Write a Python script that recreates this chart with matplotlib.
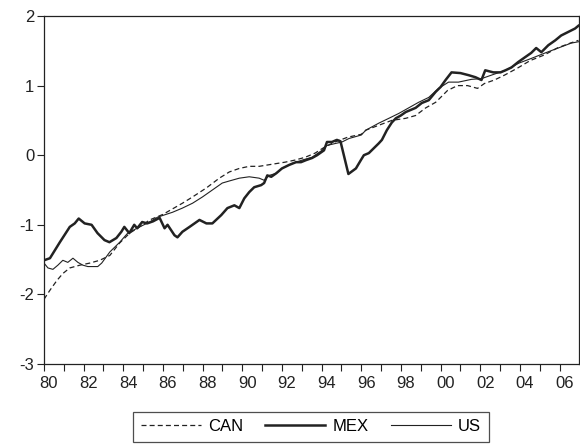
import matplotlib.pyplot as plt
import matplotlib.transforms as mtransforms

plt.rcParams['font.family'] = ['Liberation Sans', 'DejaVu Sans']

# series (decimal year, value)
can_t = [1980.0, 1980.3, 1980.65, 1980.95, 1981.3, 1981.81, 1982.31, 1982.81, 1983.32, 1983.82,
         1984.32, 1984.82, 1985.33, 1986.0, 1986.98, 1987.49, 1988.19, 1988.84, 1989.35, 1989.85,
         1990.35, 1990.85, 1991.5, 1992.16, 1992.66, 1993.17, 1993.67, 1994.17, 1994.67, 1995.33,
         1996.0, 1996.23, 1996.88, 1997.54, 1998.24, 1998.74, 1999.25, 1999.75, 2000.0, 2000.35,
         2000.85, 2001.36, 2001.86, 2002.21, 2002.71, 2003.22, 2003.87, 2004.52, 2005.23, 2005.88,
         2006.53, 2006.95]
can_v = [-2.07, -1.94, -1.8, -1.7, -1.62, -1.58, -1.55, -1.51, -1.44, -1.26,
         -1.12, -1.03, -0.93, -0.85, -0.69, -0.6, -0.47, -0.33, -0.24, -0.19,
         -0.16, -0.16, -0.13, -0.1, -0.07, -0.03, 0.03, 0.12, 0.19, 0.26,
         0.3, 0.36, 0.43, 0.5, 0.53, 0.57, 0.68, 0.76, 0.83, 0.93,
         1.0, 1.0, 0.96, 1.03, 1.08, 1.15, 1.25, 1.36, 1.44, 1.54,
         1.61, 1.65]

mex_t = [1980.0, 1980.3, 1980.8, 1981.3, 1981.55, 1981.75, 1982.05, 1982.4, 1982.7, 1983.05,
         1983.3, 1983.65, 1983.9, 1984.05, 1984.3, 1984.55, 1984.7, 1984.95, 1985.2, 1985.5,
         1985.83, 1986.08, 1986.23, 1986.58, 1986.73, 1986.98, 1987.34, 1987.84, 1988.19, 1988.49,
         1988.94, 1989.25, 1989.6, 1989.85, 1990.1, 1990.35, 1990.6, 1990.95, 1991.1, 1991.26,
         1991.46, 1991.71, 1992.0, 1992.36, 1992.71, 1992.96, 1993.22, 1993.52, 1993.77, 1994.12,
         1994.27, 1994.52, 1994.77, 1994.95, 1995.35, 1995.73, 1995.98, 1996.13, 1996.38, 1996.63,
         1996.88, 1997.04, 1997.29, 1997.54, 1997.74, 1997.99, 1998.24, 1998.49, 1998.74, 1999.05,
         1999.4, 1999.75, 2000.0, 2000.25, 2000.55, 2001.0, 2001.41, 2001.76, 2002.06, 2002.25,
         2002.66, 2003.02, 2003.27, 2003.57, 2003.92, 2004.27, 2004.57, 2004.82, 2005.08, 2005.43,
         2005.78, 2006.08, 2006.43, 2006.78, 2006.95]
mex_v = [-1.51, -1.48, -1.25, -1.03, -0.98, -0.91, -0.98, -1.0, -1.12, -1.22,
         -1.25, -1.19, -1.1, -1.03, -1.12, -1.0, -1.05, -0.96, -0.98, -0.95,
         -0.9, -1.05, -1.0, -1.15, -1.18, -1.1, -1.03, -0.93, -0.98, -0.98,
         -0.86, -0.76, -0.72, -0.76, -0.62, -0.53, -0.46, -0.43, -0.4, -0.29,
         -0.31, -0.26, -0.19, -0.14, -0.1, -0.1, -0.07, -0.04, 0.0, 0.07,
         0.19, 0.19, 0.22, 0.2, -0.27, -0.19, -0.07, 0.0, 0.03, 0.1,
         0.17, 0.22, 0.36, 0.47, 0.53, 0.57, 0.62, 0.65, 0.68, 0.75,
         0.79, 0.91, 0.98, 1.08, 1.19, 1.18, 1.15, 1.12, 1.08, 1.22,
         1.19, 1.19, 1.22, 1.26, 1.34, 1.41, 1.47, 1.54, 1.48, 1.58,
         1.65, 1.72, 1.77, 1.82, 1.86]

us_t = [1980.0, 1980.2, 1980.45, 1980.7, 1980.95, 1981.2, 1981.46, 1981.71, 1981.96, 1982.21,
        1982.71, 1982.91, 1983.32, 1983.82, 1984.22, 1984.82, 1985.33, 1985.73, 1986.48, 1986.98,
        1987.49, 1987.99, 1988.49, 1988.99, 1989.35, 1989.85, 1990.35, 1990.85, 1991.1, 1991.36,
        1991.71, 1992.0, 1992.51, 1993.02, 1993.52, 1994.02, 1994.27, 1994.72, 1995.03, 1995.38,
        1996.0, 1996.23, 1996.88, 1997.39, 1997.89, 1998.39, 1998.89, 1999.4, 1999.9, 2000.4,
        2000.9, 2001.56, 2002.06, 2002.56, 2003.27, 2003.92, 2004.57, 2005.28, 2005.93, 2006.58,
        2006.95]
us_v = [-1.55, -1.62, -1.64, -1.58, -1.51, -1.54, -1.48, -1.54, -1.58, -1.6,
        -1.6, -1.55, -1.39, -1.25, -1.12, -1.03, -0.96, -0.89, -0.82, -0.76,
        -0.69, -0.6, -0.5, -0.4, -0.37, -0.33, -0.31, -0.33, -0.36, -0.29,
        -0.26, -0.19, -0.12, -0.07, -0.03, 0.07, 0.14, 0.17, 0.19, 0.24,
        0.29, 0.36, 0.46, 0.53, 0.6, 0.68, 0.76, 0.83, 0.96, 1.05,
        1.05, 1.09, 1.1, 1.15, 1.22, 1.32, 1.39, 1.47, 1.54, 1.61,
        1.63]

year_ticks = list(range(1980, 2007, 2))
year_labels = ['%02d' % (y % 100) for y in year_ticks]
y_ticks = [-3, -2, -1, 0, 1, 2]

ink = '#222222'

fig = plt.figure(figsize=(5.8, 4.47), dpi=100)
ax = fig.add_axes([44 / 580, 1 - 364 / 447, 536 / 580 - 0.001, 348 / 447])

ax.plot(can_t, can_v, color=ink, lw=0.9, dashes=(4, 2.5), label='CAN')
ax.plot(mex_t, mex_v, color=ink, lw=1.8, label='MEX')
ax.plot(us_t, us_v, color=ink, lw=0.8, label='US')

ax.set_xlim(1980, 2007)
ax.set_ylim(-3, 2)
ax.set_yticks(y_ticks)
ax.set_yticklabels([str(v) for v in y_ticks])
ax.set_xticks(year_ticks)
ax.set_xticklabels(year_labels)
ax.set_xticks(range(1981, 2007, 2), minor=True)
ax.tick_params(axis='both', which='both', direction='out', length=5, width=0.8,
               colors=ink, labelsize=12, pad=4)
ax.tick_params(axis='y', pad=2)

# labels sit a bit to the right of their ticks
shift = mtransforms.ScaledTranslation(5 / 100, 0, fig.dpi_scale_trans)
for lbl in ax.get_xticklabels():
    lbl.set_transform(lbl.get_transform() + shift)

for s in ax.spines.values():
    s.set_color(ink)
    s.set_linewidth(0.9)

leg = fig.legend(loc='center', bbox_to_anchor=(311 / 580, 1 - 426.5 / 447), ncol=3,
                 fontsize=12, frameon=True, fancybox=False, edgecolor=ink,
                 handlelength=3.6, columnspacing=1.3, handletextpad=0.45,
                 borderpad=0.45)
leg.get_frame().set_linewidth(0.9)

fig.savefig('out.png', dpi=100)
